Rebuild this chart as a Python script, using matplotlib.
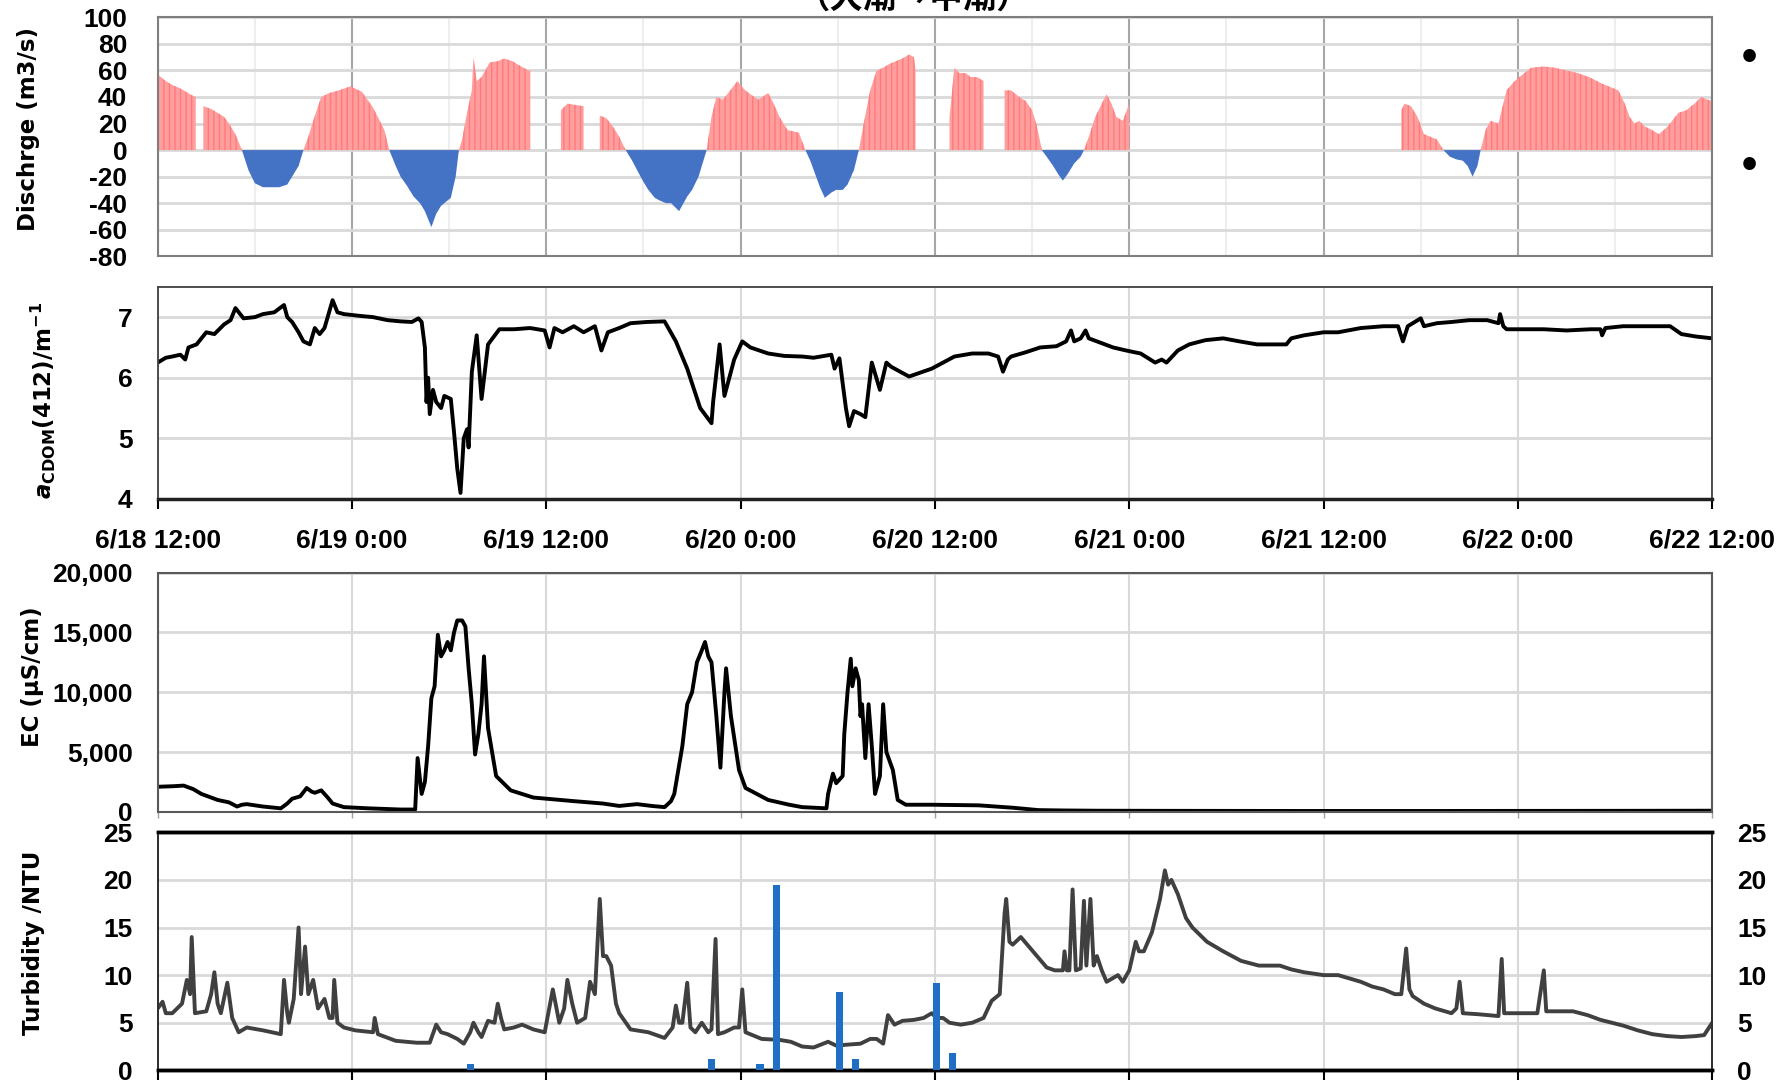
import numpy as np
import matplotlib
matplotlib.use("Agg")
import matplotlib.pyplot as plt
from matplotlib.ticker import FuncFormatter, MultipleLocator

plt.rcParams['font.family'] = ['Liberation Sans Narrow', 'Liberation Sans', 'DejaVu Sans']
plt.rcParams['font.weight'] = 'bold'
plt.rcParams['axes.unicode_minus'] = False
plt.rcParams['mathtext.fontset'] = 'custom'
plt.rcParams['mathtext.rm'] = 'DejaVu Sans:bold'
plt.rcParams['mathtext.it'] = 'DejaVu Sans:italic:bold'
plt.rcParams['mathtext.bf'] = 'DejaVu Sans:bold'

# hours since 6/18 12:00
x_ticks = [0, 12, 24, 36, 48, 60, 72, 84, 96]
x_labels = ['6/18 12:00', '6/19 0:00', '6/19 12:00', '6/20 0:00', '6/20 12:00',
            '6/21 0:00', '6/21 12:00', '6/22 0:00', '6/22 12:00']

nan = np.nan
# discharge (m3/s), nan = no data
q_hours = [0.0, 0.5, 0.9, 1.3, 1.6, 2.0, 2.35, 2.4, 2.83, 3.3, 3.7, 4.1, 4.4, 4.8, 5.2,
           5.6, 6.0, 6.5, 7.0, 7.5, 8.0, 8.4, 8.7, 9.0,
           9.3, 9.6, 10.1, 10.6, 11.2, 11.9, 12.6, 13.3, 14.0, 14.3,
           14.7, 15.0, 15.4, 15.8, 16.2, 16.5, 16.9, 17.2, 17.5, 18.1, 18.4, 18.6,
           18.8, 19.1, 19.4, 19.5, 19.7, 20.0, 20.5, 21.0, 21.4, 21.9, 22.3, 22.9, 23.0, 23.05,
           24.9, 25.3, 25.8, 26.3, 26.35,
           27.3, 27.7, 28.1, 28.5, 28.9,
           29.3, 29.6, 30.0, 30.3, 30.7, 31.0, 31.4, 31.7, 32.2, 32.7, 33.0, 33.4, 33.9,
           34.2, 34.5, 34.9, 35.3, 35.8, 36.2, 36.6, 37.1, 37.7, 38.0, 38.4, 38.9, 39.3, 39.6, 40.0,
           40.3, 40.6, 40.9, 41.2, 41.6, 41.9, 42.3, 42.6, 43.0, 43.3,
           43.6, 44.0, 44.4, 44.8, 45.2, 45.6, 46.0, 46.4, 46.7, 46.8, 46.85,
           48.9, 49.2, 49.5, 49.9, 50.2, 50.6, 51.0, 51.05,
           52.3, 52.7, 53.2, 53.6, 54.0, 54.3, 54.6,
           54.9, 55.3, 55.6, 55.9, 56.2, 56.6, 57.0, 57.2,
           57.5, 57.9, 58.3, 58.6, 58.9, 59.2, 59.6, 60.0, 60.05,
           76.8, 77.0, 77.4, 77.8, 78.2, 78.6, 79.0, 79.4,
           79.8, 80.2, 80.6, 80.9, 81.2, 81.5, 81.7,
           82.0, 82.3, 82.8, 83.3, 83.8, 84.3, 84.8, 85.6, 86.3, 87.0, 87.7, 88.4, 89.2,
           90.2, 90.6, 90.9, 91.2, 91.5, 91.8, 92.3, 92.7, 93.1, 93.4, 93.9, 94.4, 95.0,
           95.3, 95.7, 96.0]
q_vals = [57, 52, 49, 47, 45, 42, 40, nan, 33, 31, 28, 25, 20, 12, 0,
          -15, -25, -28, -28, -28, -26, -18, -12, 0,
          10, 22, 40, 43, 45, 48, 44, 32, 15, 0,
          -12, -20, -27, -35, -40, -46, -58, -48, -42, -36, -20, 0,
          8, 28, 45, 70, 52, 55, 66, 67, 69, 67, 64, 60, 60, nan,
          30, 35, 34, 33, nan,
          26, 24, 18, 10, 0,
          -8, -15, -24, -30, -36, -38, -40, -40, -46, -35, -30, -20, 0,
          25, 40, 38, 44, 52, 46, 42, 38, 43, 36, 25, 15, 14, 13, 0,
          -8, -18, -28, -36, -32, -30, -30, -26, -15, 0,
          20, 45, 60, 62, 65, 67, 69, 72, 70, 60, nan,
          25, 62, 58, 58, 55, 55, 52, nan,
          45, 45, 40, 37, 30, 18, 0,
          -5, -12, -18, -23, -18, -10, -5, 0,
          10, 25, 35, 42, 35, 25, 22, 35, nan,
          30, 35, 33, 25, 12, 10, 8, 0,
          -5, -7, -8, -12, -20, -12, 0,
          15, 22, 20, 45, 52, 57, 62, 63, 62, 60, 58, 55, 50,
          45, 35, 25, 20, 22, 18, 15, 12, 16, 20, 28, 30, 36,
          40, 38, 37]

# aCDOM(412) (1/m)
c_hours = [0, 0.5, 0.9, 1.4, 1.7, 1.9, 2.4, 3.0, 3.5, 4.1, 4.5, 4.8, 5.3, 6.0, 6.5, 7.2, 7.8,
           8.0, 8.3, 8.7, 9.0, 9.4, 9.7, 10.0, 10.3, 10.8, 11.1, 11.5, 12.5, 13.3, 14.2, 15.0,
           15.7, 16.1, 16.3, 16.5, 16.6, 16.7, 16.8, 17.0, 17.2, 17.5, 17.7, 18.1, 18.3, 18.5,
           18.7, 18.9, 19.1, 19.2, 19.4, 19.7, 20.0, 20.4, 21.1, 22.0, 23.0, 23.9, 24.2, 24.5,
           25.0, 25.7, 26.3, 27.0, 27.4, 27.8, 28.5, 29.2, 30.2, 31.3, 32.0, 32.7, 33.5, 34.2,
           34.3, 34.7, 35.0, 35.6, 36.1, 36.6, 37.7, 38.7, 39.8, 40.5, 41.6, 41.8, 42.1, 42.5,
           42.7, 43.0, 43.4, 43.7, 44.1, 44.6, 45.0, 45.3, 46.4, 47.8, 49.2, 50.3, 51.3, 51.9,
           52.2, 52.5, 52.7, 53.6, 54.5, 55.5, 56.1, 56.4, 56.6, 57.0, 57.3, 57.5, 58.0, 59.0,
           59.8, 60.7, 61.6, 62.0, 62.3, 63.0, 63.7, 64.7, 65.8, 66.8, 67.9, 69.0, 69.7, 70.0,
           70.8, 72.0, 72.9, 74.3, 75.7, 76.6, 76.9, 77.2, 78.0, 78.2, 79.0, 79.9, 81.0, 82.1,
           82.8, 82.9, 83.1, 83.3, 84.5, 85.6, 87.0, 88.5, 89.1, 89.2, 89.4, 90.5, 92.0, 93.4,
           94.1, 95.0, 96.0]
c_vals = [6.25, 6.33, 6.35, 6.38, 6.3, 6.5, 6.55, 6.75, 6.72, 6.88, 6.95, 7.15, 6.98, 7.0, 7.05, 7.08, 7.2,
          7.0, 6.92, 6.75, 6.6, 6.55, 6.82, 6.72, 6.82, 7.28, 7.08, 7.05, 7.02, 7.0, 6.95, 6.93,
          6.92, 6.98, 6.92, 6.5, 5.6, 6.0, 5.4, 5.8, 5.6, 5.5, 5.7, 5.65, 5.1, 4.5,
          4.1, 5.0, 5.15, 4.85, 6.1, 6.7, 5.65, 6.55, 6.8, 6.8, 6.82, 6.78, 6.5, 6.82,
          6.75, 6.85, 6.75, 6.85, 6.45, 6.75, 6.82, 6.9, 6.92, 6.93, 6.6, 6.15, 5.5, 5.25,
          5.6, 6.55, 5.7, 6.3, 6.6, 6.5, 6.4, 6.36, 6.35, 6.33, 6.38, 6.15, 6.32, 5.5,
          5.2, 5.45, 5.4, 5.35, 6.25, 5.8, 6.25, 6.18, 6.02, 6.15, 6.35, 6.4, 6.4, 6.35,
          6.1, 6.3, 6.35, 6.42, 6.5, 6.52, 6.6, 6.78, 6.6, 6.65, 6.78, 6.65, 6.6, 6.5,
          6.45, 6.4, 6.25, 6.3, 6.25, 6.45, 6.55, 6.62, 6.65, 6.6, 6.55, 6.55, 6.55, 6.65,
          6.7, 6.75, 6.75, 6.82, 6.85, 6.85, 6.6, 6.85, 6.98, 6.85, 6.9, 6.92, 6.95, 6.95,
          6.9, 7.05, 6.85, 6.8, 6.8, 6.8, 6.78, 6.8, 6.8, 6.7, 6.82, 6.85, 6.85, 6.85,
          6.72, 6.68, 6.65]

# EC (uS/cm)
ec_hours = [0, 1.0, 1.6, 2.2, 2.7, 3.7, 4.4, 4.9, 5.2, 5.5, 6.5, 7.6, 8.0, 8.3, 8.8, 9.2, 9.5,
            9.7, 10.1, 10.5, 10.8, 11.5, 13.0, 15.0, 15.9, 16.05, 16.3, 16.5, 16.7, 16.9, 17.1,
            17.3, 17.5, 17.7, 17.9, 18.1, 18.3, 18.5, 18.8, 19.0, 19.2, 19.4, 19.6, 19.8, 20.0,
            20.15, 20.4, 20.9, 21.8, 23.2, 25.7, 27.5, 28.5, 29.6, 30.5, 31.3, 31.7, 31.9, 32.4,
            32.7, 33.0, 33.3, 33.6, 33.8, 34.0, 34.2, 34.5, 34.75, 35.0, 35.1, 35.4, 35.9, 36.3,
            37.7, 39.0, 39.8, 41.3, 41.4, 41.7, 41.9, 42.3, 42.4, 42.6, 42.8, 42.9, 43.1, 43.3,
            43.4, 43.5, 43.7, 43.9, 44.1, 44.3, 44.6, 44.8, 45.0, 45.4, 45.7, 46.2, 47.8, 50.7,
            52.8, 54.4, 56.0, 58.0, 62.0, 70.0, 80.0, 90.0, 96.0]
ec_vals = [2100, 2150, 2200, 1900, 1500, 1000, 800, 450, 600, 650, 450, 300, 700, 1100, 1300, 2000, 1700,
           1600, 1800, 1200, 700, 400, 300, 200, 200, 4500, 1500, 2500, 5500, 9500, 10500,
           14800, 13000, 13500, 14200, 13500, 15000, 16000, 16000, 15500, 12000, 9000, 4800, 6500, 9000,
           13000, 7000, 3000, 1800, 1200, 900, 700, 500, 650, 500, 400, 900, 1500, 5500,
           9000, 10000, 12500, 13500, 14200, 13000, 12500, 8000, 3700, 10000, 12000, 8000, 3500, 2000,
           1000, 600, 400, 300, 1500, 3200, 2400, 3000, 6500, 10000, 12800, 10500, 12000, 11000,
           8000, 9000, 4500, 9000, 5500, 1500, 3000, 9000, 5000, 3500, 1000, 600, 600, 550,
           350, 150, 120, 100, 90, 80, 80, 90, 100]

# turbidity (NTU)
t_hours = [0, 0.3, 0.5, 0.9, 1.2, 1.5, 1.8, 2.0, 2.1, 2.3, 3.0, 3.3, 3.5, 3.7, 3.9, 4.3, 4.6, 5.0,
           5.5, 6.5, 7.6, 7.8, 8.0, 8.1, 8.4, 8.7, 8.85, 9.1, 9.3, 9.6, 9.9, 10.3, 10.6, 10.8,
           10.9, 11.1, 11.5, 12.2, 13.3, 13.4, 13.6, 14.7, 16.0, 16.8, 17.2, 17.5, 17.9, 18.5,
           18.9, 19.3, 19.5, 19.8, 20.0, 20.4, 20.8, 21.0, 21.2, 21.4, 22.0, 22.5, 23.2, 23.9,
           24.4, 24.8, 25.1, 25.3, 25.6, 25.9, 26.4, 26.7, 27.0, 27.3, 27.5, 27.7, 28.0, 28.3,
           28.5, 29.2, 30.3, 31.3, 31.8, 32.0, 32.2, 32.4, 32.7, 32.9, 33.2, 33.6, 34.0, 34.2,
           34.45, 34.6, 35.0, 35.6, 35.9, 36.1, 36.3, 37.3, 38.4, 39.1, 39.8, 40.5, 41.4, 41.9,
           42.6, 43.4, 44.0, 44.4, 44.8, 45.1, 45.5, 46.0, 46.7, 47.3, 47.8, 48.1, 48.5, 48.9,
           49.6, 50.3, 51.0, 51.5, 52.0, 52.3, 52.4, 52.6, 52.8, 53.3, 53.8, 54.3, 54.9, 55.4,
           55.9, 56.0, 56.15, 56.3, 56.5, 56.7, 57.0, 57.2, 57.35, 57.6, 57.8, 58.0, 58.3, 58.6,
           59.3, 59.6, 60.0, 60.4, 60.6, 60.9, 61.4, 61.9, 62.2, 62.4, 62.6, 63.0, 63.5, 63.9,
           64.8, 65.8, 66.9, 68.0, 69.3, 70.0, 70.8, 72.0, 72.9, 73.5, 74.3, 75.0, 75.7, 76.4,
           76.8, 77.1, 77.3, 77.5, 78.2, 78.9, 79.9, 80.2, 80.4, 80.6, 81.5, 82.8, 83.0, 83.15,
           83.3, 84.0, 85.2, 85.6, 85.75, 86.5, 87.4, 88.3, 89.1, 89.8, 90.5, 91.4, 92.3, 93.2,
           94.1, 95.0, 95.5, 96.0]
t_vals = [6.5, 7.2, 6.0, 6.0, 6.5, 7.0, 9.5, 8, 14, 6, 6.2, 8, 10.3, 7, 6, 9.2, 5.5, 4.0,
          4.5, 4.2, 3.8, 9.5, 6, 5, 7.5, 15, 8, 13, 8, 9.5, 6.5, 7.5, 5.5, 5.5,
          9.5, 5, 4.5, 4.2, 4.0, 5.5, 3.8, 3.1, 2.9, 2.9, 4.8, 4.0, 3.8, 3.3,
          2.8, 4.0, 5.0, 4.0, 3.5, 5.2, 5.0, 7.0, 5.5, 4.3, 4.5, 4.8, 4.3, 4.0,
          8.5, 5.0, 6.5, 9.5, 7, 5, 5.5, 9.3, 8.0, 18, 12, 12, 11, 7,
          6.0, 4.3, 4.0, 3.4, 4.5, 6.8, 5, 5.0, 9.2, 4.5, 4.0, 5.0, 4.0, 4.3,
          13.8, 3.8, 4.0, 4.5, 4.5, 8.5, 4.0, 3.3, 3.2, 3.0, 2.5, 2.4, 3.0, 2.6,
          2.7, 2.8, 3.3, 3.3, 2.8, 5.8, 4.8, 5.2, 5.3, 5.5, 6.0, 5.5, 5.5, 5.0,
          4.8, 5.0, 5.5, 7.3, 8.0, 16.5, 18, 13.5, 13.2, 14, 13, 12, 10.8, 10.5,
          10.5, 12.5, 10.5, 10.5, 19, 10.5, 10.7, 17.8, 11, 18, 11, 12, 10.5, 9.3,
          10.0, 9.3, 10.5, 13.5, 12.5, 12.5, 14.5, 18, 21, 19.5, 20, 18.5, 16, 15,
          13.5, 12.5, 11.5, 11, 11, 10.6, 10.3, 10, 10, 9.7, 9.3, 8.8, 8.5, 8.0,
          8, 12.8, 8.5, 7.8, 7.0, 6.5, 6.0, 6.5, 9.3, 6.0, 5.9, 5.7, 11.7, 6.0,
          6.0, 6.0, 6.0, 10.5, 6.2, 6.2, 6.2, 5.8, 5.3, 5.0, 4.7, 4.2, 3.8, 3.6,
          3.5, 3.6, 3.7, 5.0]

# blue bars on the right axis
r_hours = [19.3, 34.2, 37.2, 38.2, 42.1, 43.1, 48.1, 49.1]
r_vals = [0.7, 1.2, 0.7, 19.5, 8.2, 1.2, 9.2, 1.8]

fig = plt.figure(figsize=(17.78, 10.84), dpi=100)
L, W = 0.0887, 0.8743
ax1 = fig.add_axes([L, 0.7636, W, 0.2204])
ax2 = fig.add_axes([L, 0.5397, W, 0.1957])
ax3 = fig.add_axes([L, 0.2510, W, 0.2208])
ax4 = fig.add_axes([L, 0.0126, W, 0.2196])

grid_c = '#D9D9D9'

for ax in (ax1, ax2, ax3, ax4):
    ax.set_xlim(0, 96)
    ax.set_xticks(x_ticks)
    ax.set_xticklabels([])
    ax.grid(axis='y', color=grid_c, lw=2)
    ax.set_axisbelow(True)

# discharge
qh = np.array(q_hours)
qv = np.array(q_vals, dtype=float)
ax1.fill_between(qh, 0, qv, where=qv >= 0, interpolate=True, facecolor='#FF9E9E',
                 edgecolor='#FF7A7A', hatch='|||', lw=0)
ax1.fill_between(qh, 0, qv, where=qv <= 0, interpolate=True, facecolor='#4472C4', lw=0)
ax1.set_ylim(-80, 100)
ax1.set_yticks(range(-80, 101, 20))
ax1.xaxis.set_minor_locator(MultipleLocator(6))
ax1.grid(axis='x', which='minor', color='#EEEEEE', lw=1.5)
ax1.grid(axis='x', which='major', color='#A6A6A6', lw=1.5)
ax1.tick_params(axis='x', which='both', length=0)
ax1.tick_params(axis='y', length=0, pad=22, labelsize=19)
for s in ax1.spines.values():
    s.set_color('#7F7F7F')
    s.set_linewidth(1.5)

# aCDOM
ax2.plot(c_hours, c_vals, color='black', lw=2.8)
ax2.set_ylim(4, 7.5)
ax2.set_yticks([4, 5, 6, 7])
ax2.grid(axis='x', color=grid_c, lw=1.5)
ax2.set_xticklabels(x_labels)
ax2.tick_params(axis='x', direction='out', length=7, width=1.5, pad=14, labelsize=19)
ax2.tick_params(axis='y', length=0, pad=18, labelsize=19)
for s in ax2.spines.values():
    s.set_color('#404040')
    s.set_linewidth(1.3)
ax2.spines['bottom'].set_linewidth(2.5)
ax2.spines['bottom'].set_color('#202020')

# EC
ax3.plot(ec_hours, ec_vals, color='black', lw=2.8)
ax3.set_ylim(0, 20000)
ax3.set_yticks(range(0, 20001, 5000))
ax3.yaxis.set_major_formatter(FuncFormatter(lambda v, p: f'{v:,.0f}'))
ax3.grid(axis='x', color=grid_c, lw=1.5)
ax3.tick_params(axis='x', direction='out', length=4, width=1, color='#A0A0A0')
ax3.tick_params(axis='y', length=0, pad=18, labelsize=19)
for s in ax3.spines.values():
    s.set_color('#595959')
    s.set_linewidth(1.5)

# turbidity + bars
ax5 = ax4.twinx()
ax5.bar(r_hours, r_vals, width=0.45, color='#1F6FC5', zorder=3)
ax5.set_ylim(0, 25)
ax5.set_yticks(range(0, 26, 5))
ax5.tick_params(axis='y', length=0, pad=18, labelsize=19)
ax4.plot(t_hours, t_vals, color='#404040', lw=2.8, zorder=2)
ax4.set_ylim(0, 25)
ax4.set_yticks(range(0, 26, 5))
ax4.grid(axis='x', color=grid_c, lw=1.5)
ax4.tick_params(axis='x', direction='out', length=7, width=1.5)
ax4.tick_params(axis='y', length=0, pad=18, labelsize=19)
for a in (ax4, ax5):
    for s in a.spines.values():
        s.set_color('#303030')
        s.set_linewidth(1.3)
    a.spines['top'].set_linewidth(2.5)
    a.spines['top'].set_color('black')
    a.spines['bottom'].set_linewidth(2.5)
    a.spines['bottom'].set_color('black')

# axis titles
lab_kw = dict(rotation=90, ha='center', va='center', fontsize=16.5,
              fontweight='bold', family='DejaVu Sans')
fig.text(0.0163, 0.881, 'Dischrge (m3/s)', **lab_kw)
fig.text(0.0242, 0.631, r'$a_{\mathrm{CDOM}}$(412)/m$^{-1}$', **lab_kw)
fig.text(0.018, 0.376, 'EC (µS/cm)', **lab_kw)
fig.text(0.019, 0.130, 'Turbidity /NTU', **lab_kw)

# clipped title and legend bullets at the page edge
fig.text(0.514, 1.002, '（大潮→中潮）', ha='center', va='center', fontsize=24,
         fontweight='bold', family=['Noto Sans CJK JP', 'DejaVu Sans'])
fig.text(0.984, 0.946, '•', ha='center', va='center', fontsize=26, family='DejaVu Sans')
fig.text(0.984, 0.846, '•', ha='center', va='center', fontsize=26, family='DejaVu Sans')

fig.savefig('out.png', dpi=100)
